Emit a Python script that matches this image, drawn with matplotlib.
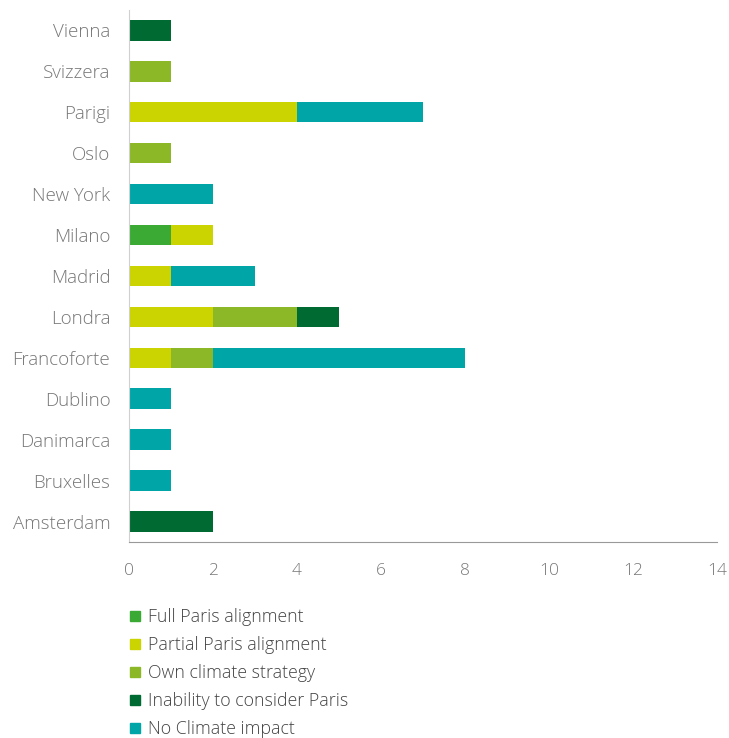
import matplotlib
matplotlib.use("Agg")
import matplotlib.pyplot as plt
from matplotlib.lines import Line2D
import numpy as np

plt.rcParams['font.family'] = ['Open Sans', 'DejaVu Sans']

# Data (bottom to top)
cities = ["Amsterdam", "Bruxelles", "Danimarca", "Dublino", "Francoforte", "Londra",
          "Madrid", "Milano", "New York", "Oslo", "Parigi", "Svizzera", "Vienna"]
full_paris = [0, 0, 0, 0, 0, 0, 0, 1, 0, 0, 0, 0, 0]
partial_paris = [0, 0, 0, 0, 1, 2, 1, 1, 0, 0, 4, 0, 0]
own_strategy = [0, 0, 0, 0, 1, 2, 0, 0, 0, 1, 0, 1, 0]
inability = [2, 0, 0, 0, 0, 1, 0, 0, 0, 0, 0, 0, 1]
no_impact = [0, 1, 1, 1, 6, 0, 2, 0, 2, 0, 3, 0, 0]

series = [
    ("Full Paris alignment", full_paris, "#3aaa35"),
    ("Partial Paris alignment", partial_paris, "#cbd300"),
    ("Own climate strategy", own_strategy, "#8cb828"),
    ("Inability to consider Paris", inability, "#006a33"),
    ("No Climate impact", no_impact, "#00a5a8"),
]

fig = plt.figure(figsize=(7.29, 7.38), dpi=100)
ax = fig.add_axes([0.177, 0.2656, 0.8065, 0.721])

y = np.arange(len(cities))
left = np.zeros(len(cities))
handles = []
for name, vals, col in series:
    vals = np.array(vals, dtype=float)
    ax.barh(y, vals, left=left, height=0.5, color=col, edgecolor="none")
    left += vals
    handles.append(Line2D([], [], marker="s", linestyle="none", markersize=6.5,
                          markerfacecolor=col, markeredgecolor=col, label=name))

ax.set_xlim(0, 14)
ax.set_ylim(-0.5, 12.5)
ax.set_xticks(range(0, 15, 2))
ax.set_yticks(y)
ax.set_yticklabels(cities)
ax.tick_params(axis="both", length=0, colors="#777777", labelsize=12.5)
ax.tick_params(axis="y", labelsize=13.5, pad=13.5)
ax.tick_params(axis="x", pad=15)
for lbl in ax.get_xticklabels() + ax.get_yticklabels():
    lbl.set_fontweight("light")

for s in ["top", "right"]:
    ax.spines[s].set_visible(False)
ax.spines["left"].set_color("#d0d0d0")
ax.spines["bottom"].set_color("#999999")

leg = fig.legend(handles=handles, loc="upper left", bbox_to_anchor=(0.165, 0.188),
                 frameon=False, fontsize=12.8, handlelength=0.6, handletextpad=0.45,
                 labelspacing=0.56, borderpad=0)
for t in leg.get_texts():
    t.set_color("#444444")
    t.set_fontweight("light")

fig.savefig("out.png", dpi=100)
